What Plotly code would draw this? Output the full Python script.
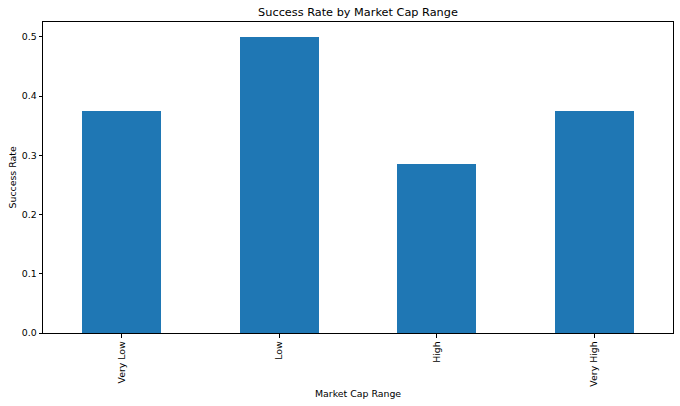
import plotly.graph_objects as go

# data
categories = ["Very Low", "Low", "High", "Very High"]
success_rate = [0.375, 0.5, 0.2857, 0.375]

fig = go.Figure()
fig.add_trace(go.Bar(
    x=list(range(len(categories))),
    y=success_rate,
    width=0.5,
    marker=dict(color="#1f77b4", line=dict(width=0)),
))

axis_style = dict(
    showline=True, linecolor="black", linewidth=1, mirror=True,
    ticks="outside", ticklen=3.5, tickcolor="black",
    showgrid=False, zeroline=False, automargin=False,
    tickfont=dict(size=9.4, color="black"),
)

fig.update_layout(
    width=680, height=406,
    margin=dict(l=43, r=7, t=22, b=73),
    paper_bgcolor="white", plot_bgcolor="white",
    font=dict(family="DejaVu Sans", color="black"),
    title=dict(text="Success Rate by Market Cap Range", x=0.5, xanchor="center",
               xref="paper", y=1 - 12 / 406, yanchor="middle", font=dict(size=11.3)),
    showlegend=False,
    bargap=0,
)
fig.update_xaxes(
    **axis_style,
    range=[-0.5, 3.5],
    tickmode="array", tickvals=list(range(len(categories))), ticktext=categories,
    tickangle=-90,
)
fig.update_yaxes(
    **axis_style,
    range=[0, 0.525],
    tickvals=[0, 0.1, 0.2, 0.3, 0.4, 0.5],
    ticktext=["0.0", "0.1", "0.2", "0.3", "0.4", "0.5"],
)

# axis titles as annotations so they sit where the reference has them
fig.add_annotation(text="Market Cap Range", xref="paper", yref="paper",
                   x=0.5, y=-60 / 311, xanchor="center", yanchor="middle",
                   showarrow=False, font=dict(size=9.4))
fig.add_annotation(text="Success Rate", xref="paper", yref="paper",
                   x=-31 / 630, y=0.5, xanchor="center", yanchor="middle",
                   textangle=-90, showarrow=False, font=dict(size=9.4))

# drop the browser's default body margin so the figure fills the window
fig.write_html("out.html", config={"displayModeBar": False},
               post_script="document.body.style.margin='0';")
